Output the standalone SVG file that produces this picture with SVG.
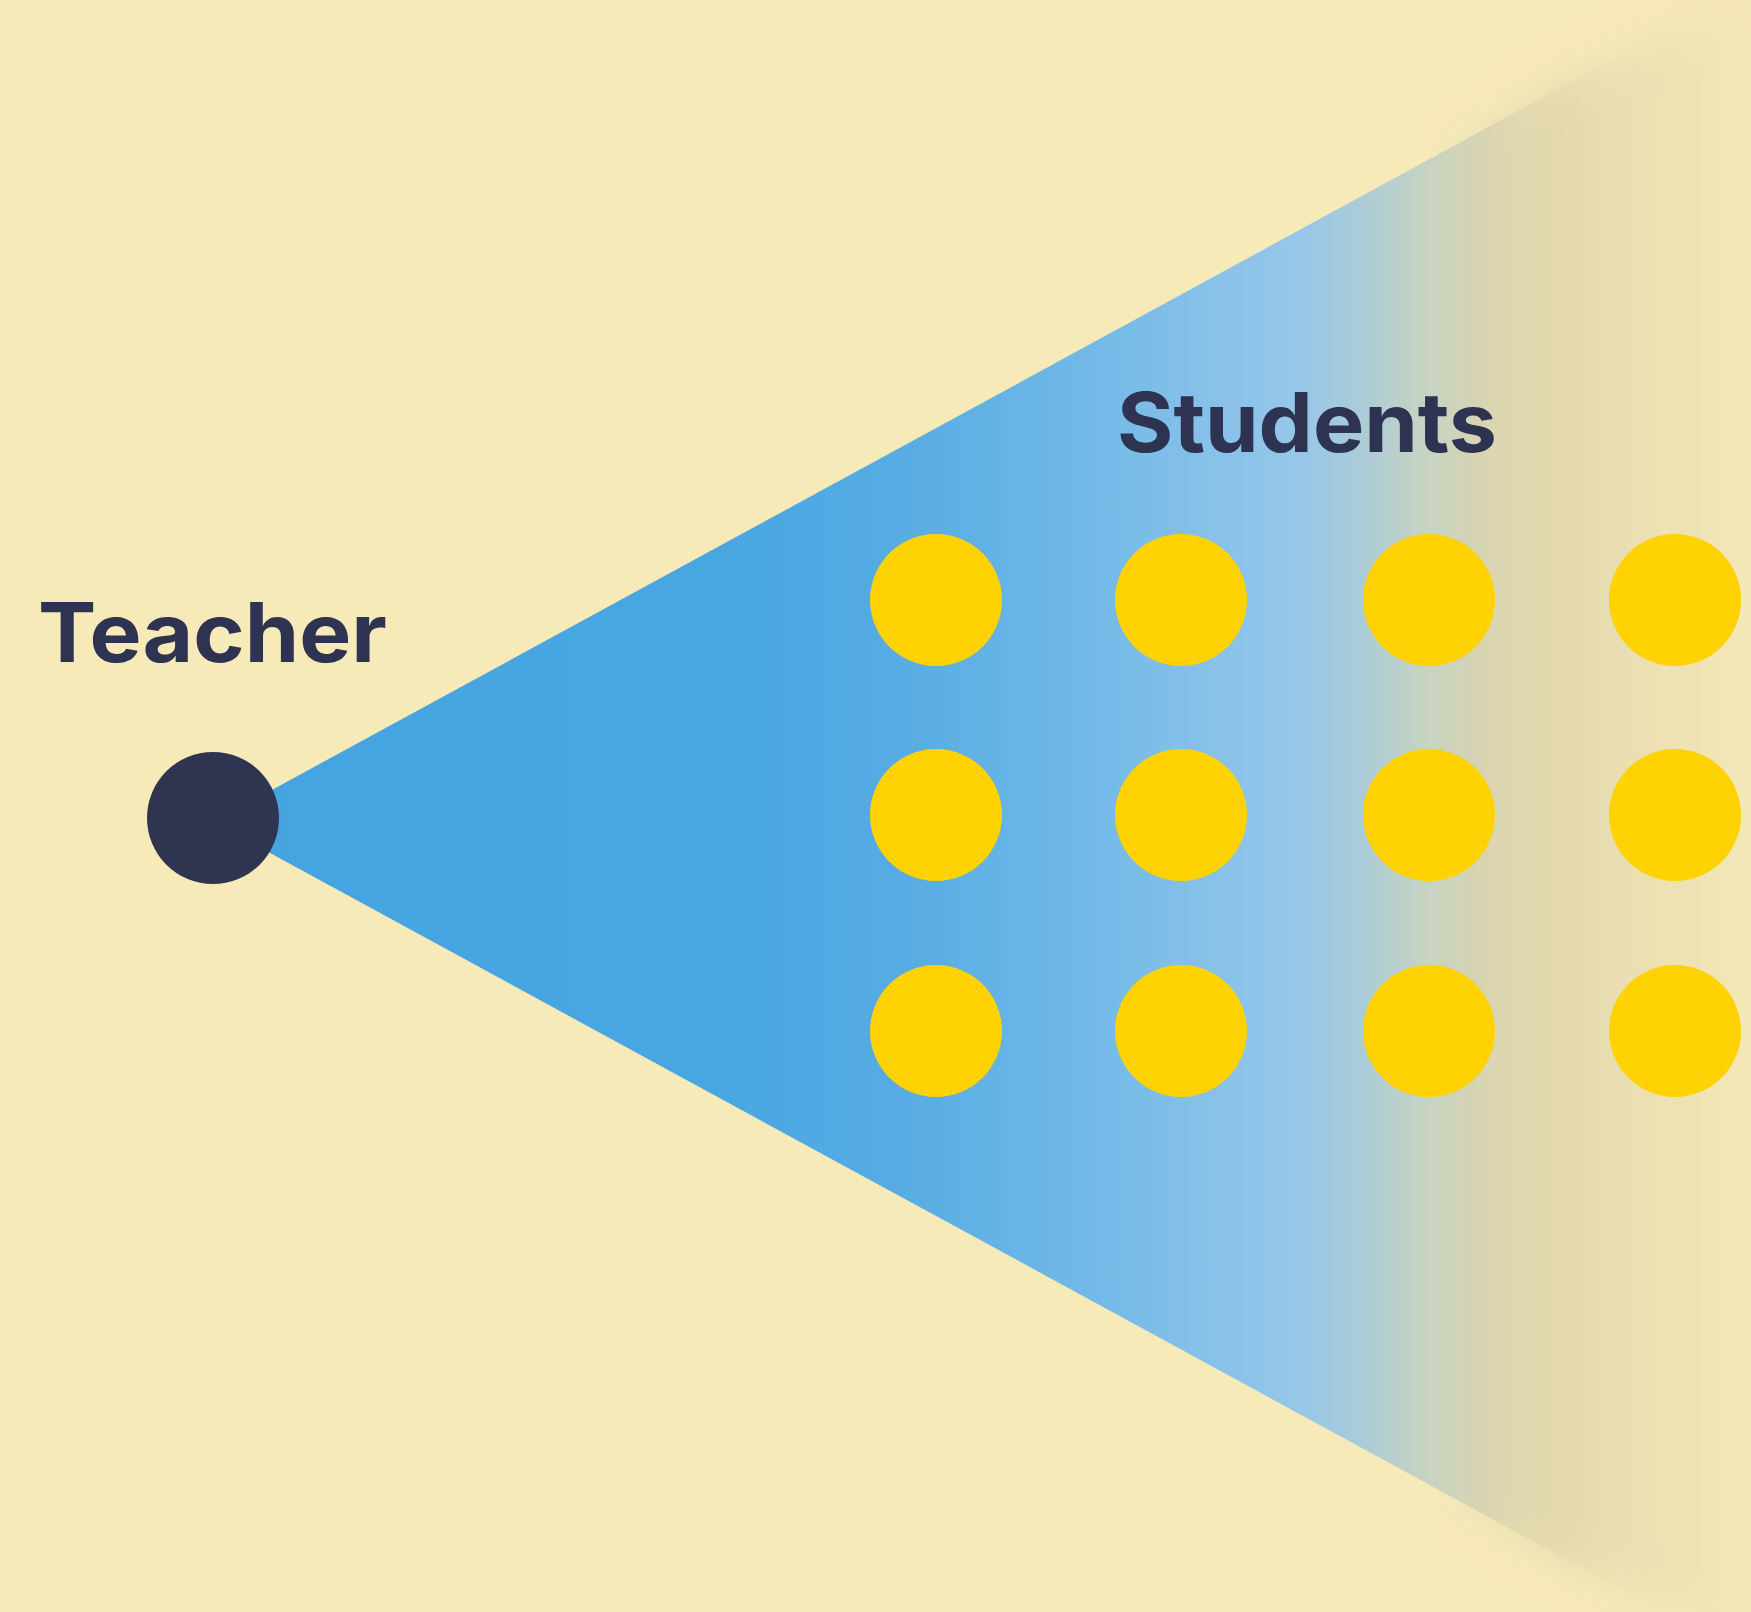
<svg xmlns="http://www.w3.org/2000/svg" width="1751" height="1612" viewBox="0 0 1751 1612">
<style>
.lbl{font-family:Inter,"Open Sans","Liberation Sans",sans-serif;font-weight:700;fill:#2d3351}
.stu{fill:#fed203}
</style>
<defs>
<linearGradient id="cone" gradientUnits="userSpaceOnUse" x1="213" y1="0" x2="1751" y2="0">
<stop offset="0" stop-color="#45a4e0"/>
<stop offset="0.317" stop-color="#48a6e1"/>
<stop offset="0.447" stop-color="#56ace3"/>
<stop offset="0.577" stop-color="#74bae8"/>
<stop offset="0.707" stop-color="#96c7e9"/>
<stop offset="0.746" stop-color="#aacbd8"/>
<stop offset="0.785" stop-color="#c5d3c4"/>
<stop offset="0.830" stop-color="#d9d4b0"/>
<stop offset="0.870" stop-color="#e1d7ac"/>
<stop offset="0.915" stop-color="#eadfb2"/>
<stop offset="1" stop-color="#f3e6b7"/>
</linearGradient>
<linearGradient id="fadeG" gradientUnits="userSpaceOnUse" x1="1480" y1="0" x2="1640" y2="0">
<stop offset="0" stop-color="#fff"/>
<stop offset="1" stop-color="#000"/>
</linearGradient>
<linearGradient id="fadeIn" gradientUnits="userSpaceOnUse" x1="1420" y1="0" x2="1560" y2="0">
<stop offset="0" stop-color="#000"/>
<stop offset="1" stop-color="#fff"/>
</linearGradient>
<mask id="fadeM" maskUnits="userSpaceOnUse" x="0" y="0" width="1751" height="1612">
<rect width="1751" height="1612" fill="url(#fadeG)"/>
</mask>
<mask id="fadeInM" maskUnits="userSpaceOnUse" x="0" y="0" width="1751" height="1612">
<rect width="1751" height="1612" fill="url(#fadeIn)"/>
</mask>
<filter id="soft" x="-10%" y="-10%" width="120%" height="120%"><feGaussianBlur stdDeviation="20"/></filter>
</defs>
<rect width="1751" height="1612" fill="#f7eab9"/>
<g id="cone-beam">
<g mask="url(#fadeInM)">
<polygon points="213,822 1751,-16 1751,1660" fill="url(#cone)" filter="url(#soft)"/>
</g>
<polygon points="213,822 1751,-16 1751,1660" fill="url(#cone)" mask="url(#fadeM)"/>
</g>
<g id="teacher">
<circle cx="213" cy="818" r="66" fill="#2f3450"/>
<text class="lbl" x="38" y="662" font-size="82" textLength="349" lengthAdjust="spacingAndGlyphs">Teacher</text>
</g>
<g id="students-label">
<text class="lbl" x="1117" y="452" font-size="82" textLength="380" lengthAdjust="spacingAndGlyphs">Students</text>
</g>
<g id="students">
<circle class="stu" cx="936" cy="600" r="66"/>
<circle class="stu" cx="1181" cy="600" r="66"/>
<circle class="stu" cx="1429" cy="600" r="66"/>
<circle class="stu" cx="1675" cy="600" r="66"/>
<circle class="stu" cx="936" cy="815" r="66"/>
<circle class="stu" cx="1181" cy="815" r="66"/>
<circle class="stu" cx="1429" cy="815" r="66"/>
<circle class="stu" cx="1675" cy="815" r="66"/>
<circle class="stu" cx="936" cy="1031" r="66"/>
<circle class="stu" cx="1181" cy="1031" r="66"/>
<circle class="stu" cx="1429" cy="1031" r="66"/>
<circle class="stu" cx="1675" cy="1031" r="66"/>
</g>
<g id="connectors"/>
</svg>
